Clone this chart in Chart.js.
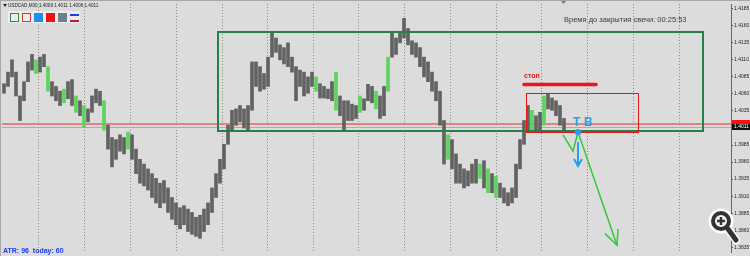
<!DOCTYPE html>
<html>
<head>
<meta charset="utf-8">
<script src="https://cdn.jsdelivr.net/npm/chart.js@4.4.0/dist/chart.umd.min.js"></script>
<style>
html, body { margin: 0; padding: 0; background: #dcdcdc; overflow: hidden; }
</style>
</head>
<body>
<canvas id="chart" width="750" height="256"></canvas>
<script>
// price range of the window and right axis labels
const yMin = 1.3828, yMax = 1.4192;
const tickValues = [1.3835, 1.3860, 1.3885, 1.3910, 1.3935, 1.3960, 1.3985, 1.4010,
                    1.4035, 1.4060, 1.4085, 1.4110, 1.4135, 1.4160, 1.4185];
const bidPrice = 1.4011, askPrice = 1.4016;

// bar ranges (low / high)
const lows = [
  1.4061,1.4071,1.4085,1.4057,1.4021,1.4050,1.4078,1.4095,1.4090,1.4092,
  1.4100,1.4064,1.4057,1.4050,1.4043,1.4047,1.4053,1.4043,1.4033,1.4028,
  1.4011,1.4019,1.4033,1.4047,1.4043,1.4007,1.3979,1.3953,1.3964,1.3976,
  1.3972,1.3979,1.3964,1.3943,1.3929,1.3925,1.3919,1.3908,1.3900,1.3893,
  1.3900,1.3886,1.3876,1.3868,1.3862,1.3868,1.3858,1.3854,1.3851,1.3848,
  1.3858,1.3868,1.3886,1.3908,1.3929,1.3950,1.3986,1.4007,1.4014,1.4019,
  1.4010,1.4007,1.4036,1.4071,1.4064,1.4067,1.4071,1.4114,1.4121,1.4110,
  1.4104,1.4100,1.4092,1.4050,1.4071,1.4057,1.4061,1.4071,1.4064,1.4054,
  1.4054,1.4053,1.4050,1.4036,1.4028,1.4007,1.4021,1.4021,1.4024,1.4033,
  1.4036,1.4050,1.4047,1.4038,1.4024,1.4028,1.4064,1.4114,1.4118,1.4135,
  1.4142,1.4132,1.4118,1.4114,1.4100,1.4085,1.4078,1.4064,1.4050,1.4014,
  1.3957,1.3964,1.3950,1.3929,1.3929,1.3922,1.3925,1.3929,1.3929,1.3936,
  1.3922,1.3915,1.3915,1.3908,1.3908,1.3900,1.3896,1.3900,1.3908,1.3950,
  1.3986,1.4007,1.4007,1.4004,1.4007,1.4014,1.4038,1.4036,1.4028,1.4014,
  1.4004
];
const highs = [
  1.4075,1.4092,1.4110,1.4092,1.4057,1.4078,1.4107,1.4118,1.4110,1.4114,
  1.4118,1.4100,1.4078,1.4071,1.4064,1.4067,1.4078,1.4081,1.4057,1.4050,
  1.4043,1.4038,1.4057,1.4067,1.4064,1.4050,1.4014,1.3996,1.3993,1.4000,
  1.3996,1.4004,1.4000,1.3979,1.3964,1.3957,1.3950,1.3943,1.3936,1.3929,
  1.3933,1.3922,1.3908,1.3900,1.3893,1.3896,1.3891,1.3886,1.3879,1.3882,
  1.3891,1.3900,1.3922,1.3943,1.3964,1.3986,1.4014,1.4036,1.4038,1.4043,
  1.4038,1.4043,1.4107,1.4107,1.4100,1.4090,1.4114,1.4149,1.4142,1.4132,
  1.4128,1.4135,1.4114,1.4100,1.4095,1.4092,1.4085,1.4092,1.4085,1.4075,
  1.4071,1.4067,1.4078,1.4092,1.4057,1.4050,1.4050,1.4045,1.4043,1.4057,
  1.4053,1.4074,1.4071,1.4064,1.4057,1.4071,1.4114,1.4152,1.4142,1.4152,
  1.4171,1.4156,1.4138,1.4135,1.4128,1.4114,1.4107,1.4092,1.4078,1.4064,
  1.4021,1.4000,1.3993,1.3972,1.3957,1.3950,1.3947,1.3957,1.3964,1.3957,
  1.3962,1.3950,1.3943,1.3939,1.3929,1.3922,1.3915,1.3922,1.3957,1.3993,
  1.4021,1.4043,1.4036,1.4028,1.4033,1.4057,1.4061,1.4054,1.4050,1.4043,
  1.4024
];
// bars drawn in light green
const greenIdx = [8, 11, 15, 18, 20, 25, 31, 78, 83, 89, 93, 96, 111, 119, 121, 123, 132, 135];
// vertical dotted separators (bar index)
const gridX = [8.5, 20, 31.5, 43, 54.5, 65.75, 77.25, 88.5, 100, 111.5, 123, 134.25, 145.75, 157.25, 168.75];

// drawn objects, in bar index / price
const boxZone = { x0: 53.5, x1: 174.75, top: 1.4151, bottom: 1.4006 };
const boxStop = { x0: 130.5, x1: 158.5, top: 1.4061, bottom: 1.4004 };
const stopLine = { x0: 130, x1: 148, price: 1.4074 };
const pathDown = [[139.75, 1.4000], [142.25, 1.3976], [143.5, 1.4004], [153.25, 1.3838]];
const arrowHead = [[150.25, 1.3855], [153.25, 1.3838], [153.5, 1.3862]];
const entry = { x: 143.5, price: 1.4004 };

const drawings = {
  id: 'drawings',
  beforeDraw(chart) {
    const { ctx, width, height, chartArea: a } = chart;
    const xs = chart.scales.x, ys = chart.scales.y;
    ctx.save();
    ctx.fillStyle = '#dcdcdc';
    ctx.fillRect(0, 0, width, height);
    ctx.fillStyle = '#a8a8a8';
    ctx.fillRect(0, 0, width, 1);
    ctx.fillRect(0, 0, 1, height);

    ctx.strokeStyle = '#8a8a8a';
    ctx.lineWidth = 1;
    ctx.setLineDash([1, 2]);
    gridX.forEach(g => {
      const px = Math.round(xs.getPixelForValue(g)) + 0.5;
      ctx.beginPath(); ctx.moveTo(px, a.top); ctx.lineTo(px, a.bottom); ctx.stroke();
    });
    ctx.setLineDash([]);

    // ask and bid lines
    let py = Math.round(ys.getPixelForValue(askPrice));
    ctx.fillStyle = 'rgba(235,110,110,0.85)';
    ctx.fillRect(a.left, py - 1, a.right - a.left, 2);
    py = Math.round(ys.getPixelForValue(bidPrice)) + 0.5;
    ctx.strokeStyle = '#a4acb6';
    ctx.beginPath(); ctx.moveTo(a.left, py); ctx.lineTo(a.right, py); ctx.stroke();
    ctx.restore();
  },
  afterDatasetsDraw(chart) {
    const { ctx, width, height, chartArea: a } = chart;
    const X = v => chart.scales.x.getPixelForValue(v);
    const Y = v => chart.scales.y.getPixelForValue(v);
    ctx.save();

    // zone rectangle
    ctx.strokeStyle = '#23804a';
    ctx.lineWidth = 2;
    ctx.strokeRect(Math.round(X(boxZone.x0)), Math.round(Y(boxZone.top)),
      Math.round(X(boxZone.x1) - X(boxZone.x0)), Math.round(Y(boxZone.bottom) - Y(boxZone.top)));

    // stop box
    ctx.strokeStyle = '#e01818';
    ctx.lineWidth = 1;
    ctx.strokeRect(Math.round(X(boxStop.x0)) + 0.5, Math.round(Y(boxStop.top)) + 0.5,
      Math.round(X(boxStop.x1) - X(boxStop.x0)), Math.round(Y(boxStop.bottom) - Y(boxStop.top)));

    // stop line + label
    ctx.strokeStyle = '#f01414';
    ctx.lineWidth = 3.5;
    ctx.lineCap = 'round';
    ctx.beginPath();
    ctx.moveTo(X(stopLine.x0), Y(stopLine.price));
    ctx.lineTo(X(stopLine.x1), Y(stopLine.price));
    ctx.stroke();
    ctx.fillStyle = '#e81818';
    ctx.font = 'bold 7px "Liberation Sans"';
    ctx.textBaseline = 'middle';
    ctx.fillText('стоп', X(stopLine.x0), Y(stopLine.price) - 8);

    // green projection path
    ctx.strokeStyle = '#2fc93a';
    ctx.lineWidth = 1.5;
    ctx.lineCap = 'butt';
    ctx.beginPath();
    pathDown.forEach((p, i) => i ? ctx.lineTo(X(p[0]), Y(p[1])) : ctx.moveTo(X(p[0]), Y(p[1])));
    ctx.stroke();
    ctx.beginPath();
    arrowHead.forEach((p, i) => i ? ctx.lineTo(X(p[0]), Y(p[1])) : ctx.moveTo(X(p[0]), Y(p[1])));
    ctx.stroke();

    // blue entry marks
    const ex = X(entry.x), ey = Y(entry.price);
    ctx.fillStyle = '#2a9ee8';
    ctx.beginPath(); ctx.arc(ex, ey, 3.2, 0, Math.PI * 2); ctx.fill();
    ctx.font = 'bold 12px "Liberation Sans"';
    ctx.textBaseline = 'alphabetic';
    ctx.fillText('T', ex - 5, ey - 6);
    ctx.fillText('B', ex + 6, ey - 6);
    ctx.strokeStyle = '#2a9ee8';
    ctx.lineWidth = 2;
    ctx.beginPath(); ctx.moveTo(ex, ey + 10); ctx.lineTo(ex, ey + 34); ctx.stroke();
    ctx.beginPath(); ctx.moveTo(ex - 4, ey + 27); ctx.lineTo(ex, ey + 34); ctx.lineTo(ex + 4, ey + 27); ctx.stroke();

    // header
    ctx.fillStyle = '#222';
    ctx.beginPath(); ctx.moveTo(3, 4); ctx.lineTo(7, 4); ctx.lineTo(5, 7); ctx.closePath(); ctx.fill();
    ctx.font = '4.6px "Liberation Sans"';
    ctx.textBaseline = 'middle';
    ctx.fillText('USDCAD,M30 1.4009 1.4011 1.4006 1.4011', 8, 6);

    // object buttons
    const icons = [10, 22, 34, 46, 58, 70];
    icons.forEach(x0 => {
      ctx.fillStyle = '#ececec';
      ctx.fillRect(x0 - 2, 11, 12, 12);
    });
    ctx.lineWidth = 1;
    ctx.strokeStyle = '#2b8a52'; ctx.strokeRect(10.5, 13.5, 8, 8);
    ctx.strokeStyle = '#e53030'; ctx.strokeRect(22.5, 13.5, 8, 8);
    ctx.fillStyle = '#2090f0'; ctx.fillRect(34, 13, 9, 9);
    ctx.fillStyle = '#f01010'; ctx.fillRect(46, 13, 9, 9);
    ctx.fillStyle = '#6f7f8e'; ctx.fillRect(58, 13, 9, 9);
    ctx.fillStyle = '#1f3ee0'; ctx.fillRect(70, 14, 9, 2);
    ctx.fillStyle = '#b02020'; ctx.fillRect(70, 20, 9, 2);

    // candle timer
    ctx.fillStyle = '#3a3a3a';
    ctx.font = '7.5px "Liberation Sans"';
    ctx.fillText('Время до закрытия свечи: 00:25:53', 564, 20);

    // ATR
    ctx.fillStyle = '#1a3cf0';
    ctx.font = 'bold 7px "Liberation Sans"';
    ctx.fillText('ATR: 96  today: 60', 3, 251);

    // shift marker
    ctx.fillStyle = '#5f7f9f';
    ctx.beginPath(); ctx.moveTo(561, 1); ctx.lineTo(566, 1); ctx.lineTo(563.5, 4); ctx.closePath(); ctx.fill();

    // price labels on the axis
    const ay = Math.round(Y(askPrice)), by = Math.round(Y(bidPrice));
    ctx.fillStyle = '#ff1010';
    ctx.fillRect(a.right + 1, ay - 4, width - a.right - 1, 6);
    ctx.fillStyle = '#101010';
    ctx.fillRect(a.right + 1, by - 3, width - a.right - 1, 6);
    ctx.fillStyle = '#ffffff';
    ctx.font = '5px "Liberation Sans"';
    ctx.fillText(bidPrice.toFixed(4), a.right + 3, by);

    // zoom button
    ctx.lineCap = 'round';
    ctx.strokeStyle = '#ffffff';
    ctx.lineWidth = 8;
    ctx.beginPath(); ctx.moveTo(728, 229); ctx.lineTo(736, 240); ctx.stroke();
    ctx.beginPath(); ctx.arc(721, 221, 9, 0, Math.PI * 2); ctx.lineWidth = 7; ctx.stroke();
    ctx.fillStyle = '#f4f4f4';
    ctx.beginPath(); ctx.arc(721, 221, 8, 0, Math.PI * 2); ctx.fill();
    ctx.strokeStyle = '#333333';
    ctx.lineWidth = 4;
    ctx.beginPath(); ctx.arc(721, 221, 8, 0, Math.PI * 2); ctx.stroke();
    ctx.lineWidth = 5;
    ctx.beginPath(); ctx.moveTo(728, 229); ctx.lineTo(736, 240); ctx.stroke();
    ctx.lineWidth = 2.5;
    ctx.lineCap = 'butt';
    ctx.beginPath();
    ctx.moveTo(717, 221); ctx.lineTo(725, 221);
    ctx.moveTo(721, 217); ctx.lineTo(721, 225);
    ctx.stroke();

    ctx.restore();
  }
};

const bars = lows.map((lo, i) => ({ x: i, y: [lo, highs[i]] }));

new Chart(document.getElementById('chart'), {
  type: 'bar',
  data: {
    datasets: [{
      data: bars,
      backgroundColor: c => greenIdx.includes(c.dataIndex) ? '#5cd45c' : '#626262',
      borderWidth: 0,
      barThickness: 3,
      grouped: false
    }]
  },
  options: {
    responsive: false,
    animation: false,
    layout: { padding: { left: 2, top: 0, right: 0, bottom: 0 } },
    plugins: { legend: { display: false }, tooltip: { enabled: false } },
    scales: {
      x: { type: 'linear', min: -0.5, max: 181.75, offset: false, display: false },
      y: {
        position: 'right',
        min: yMin,
        max: yMax,
        afterBuildTicks: s => { s.ticks = tickValues.map(v => ({ value: v })); },
        afterFit: s => { s.width = 19; },
        ticks: {
          autoSkip: false,
          padding: 1,
          color: '#222',
          font: { family: 'Liberation Sans', size: 5 },
          callback: v => v.toFixed(4)
        },
        grid: { drawOnChartArea: false, tickLength: 2, color: '#555' },
        border: { color: '#666', width: 1 }
      }
    }
  },
  plugins: [drawings]
});
</script>
</body>
</html>
